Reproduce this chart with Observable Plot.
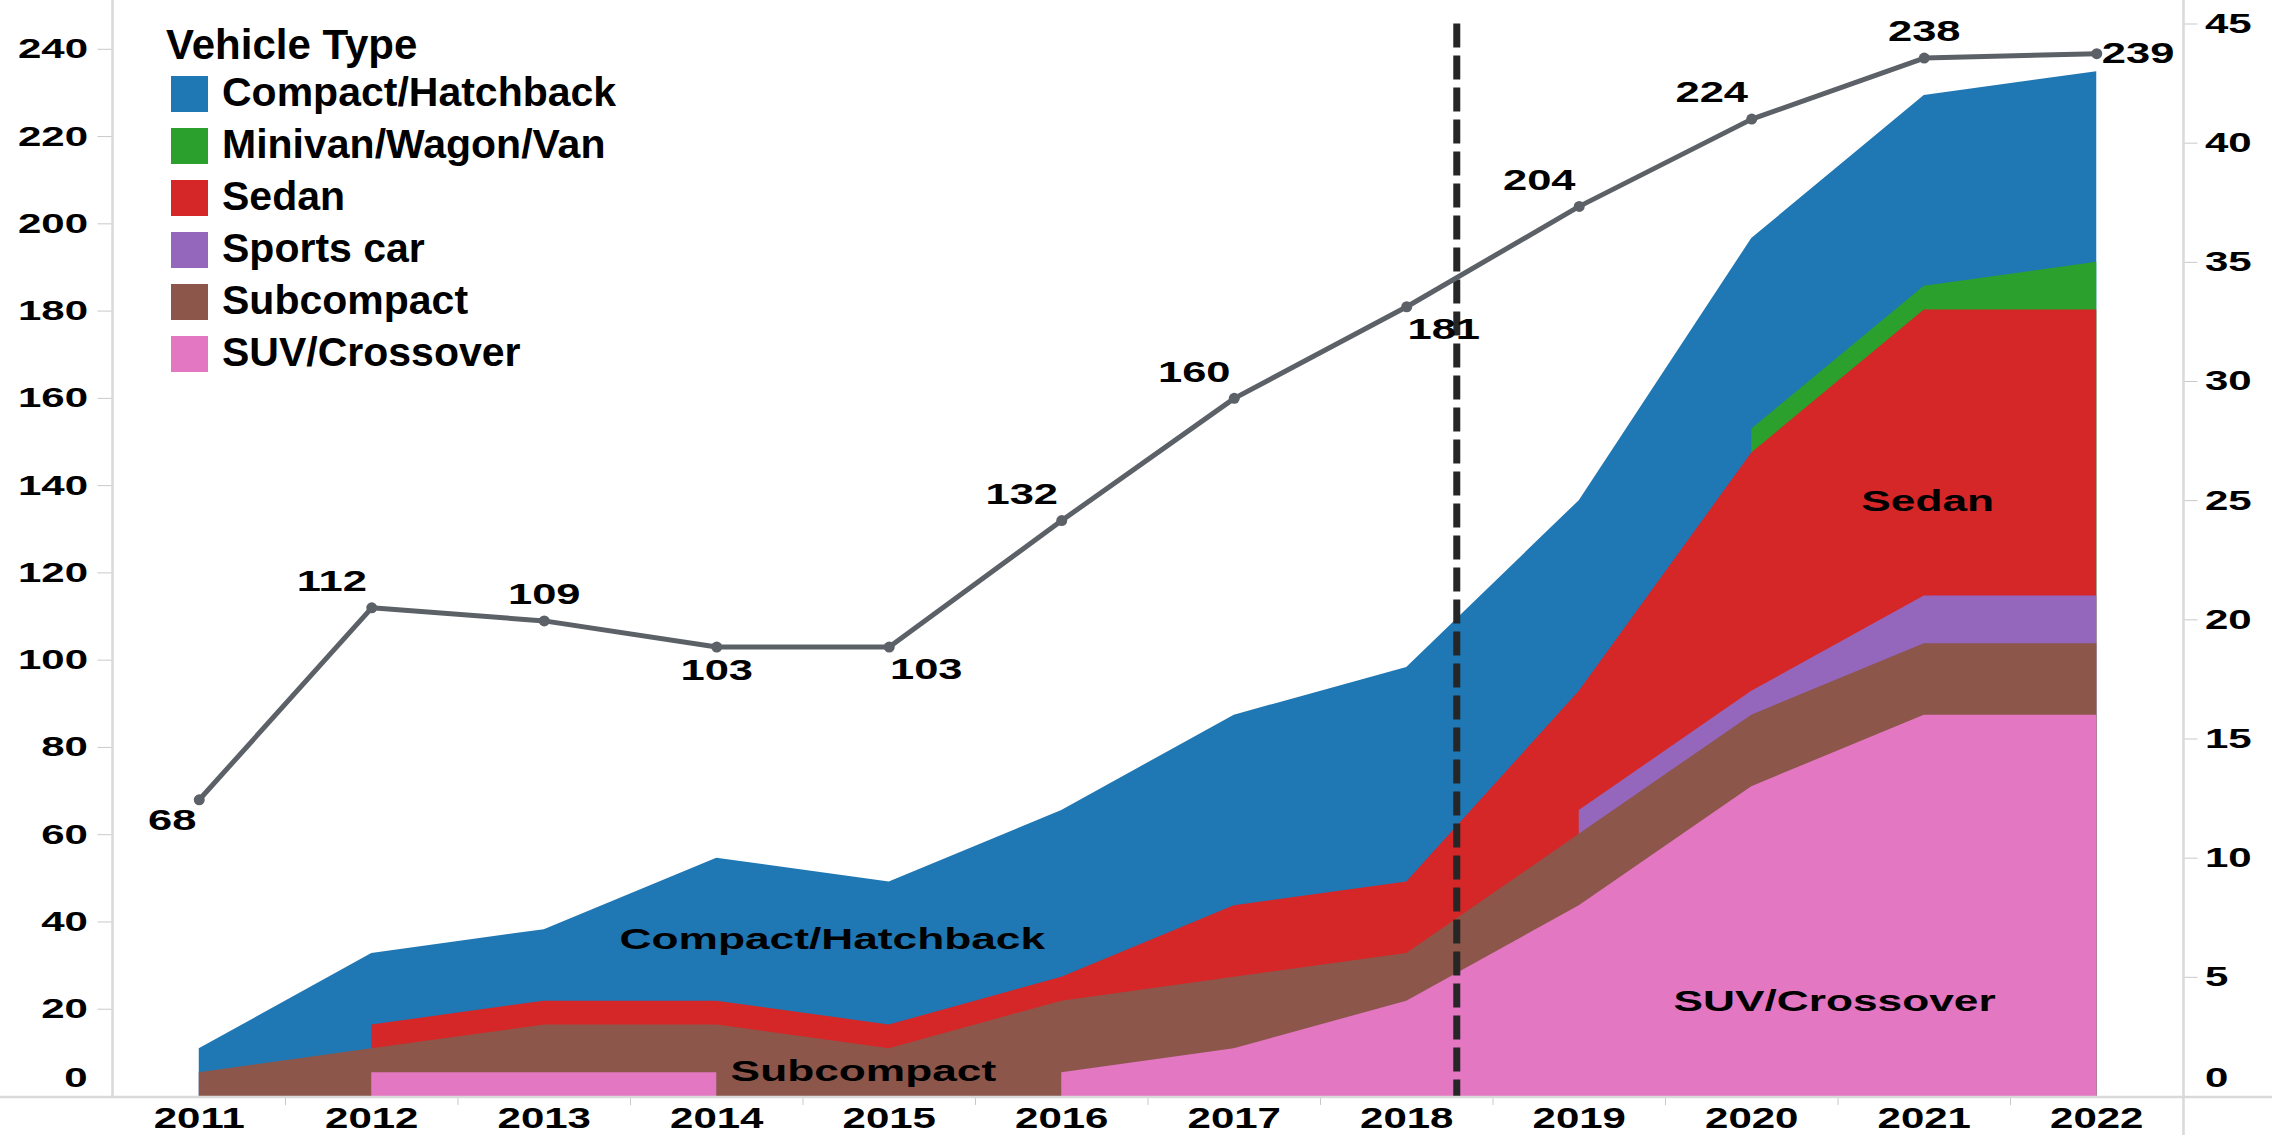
<!DOCTYPE html>
<html>
<head>
<meta charset="utf-8">
<script src="https://cdn.jsdelivr.net/npm/d3@7"></script>
<script src="https://cdn.jsdelivr.net/npm/@observablehq/plot@0.6"></script>
<style>
  html, body { margin: 0; padding: 0; background: #fff; }
  #wrap { position: relative; width: 2272px; height: 1135px; overflow: hidden; }
  #legend { position: absolute; left: 166px; top: 0; font-family: "Liberation Sans", Arial, sans-serif; font-weight: bold; color: #000; }
  #legend .lt { position: absolute; left: 0; top: 24px; font-size: 42px; line-height: 42px; white-space: nowrap; }
  #legend .li { position: absolute; left: 5px; height: 36px; font-size: 41px; line-height: 32px; white-space: nowrap; }
  #legend .sw { position: absolute; left: 0; top: 0; width: 37px; height: 36px; }
  #legend .tx { position: absolute; left: 51px; top: 0; }
</style>
</head>
<body>
<div id="wrap"></div>
<script>
// ---------------- data ----------------
const years = [2011, 2012, 2013, 2014, 2015, 2016, 2017, 2018, 2019, 2020, 2021, 2022];
const vehicleTypes = ["Compact/Hatchback", "Minivan/Wagon/Van", "Sedan", "Sports car", "Subcompact", "SUV/Crossover"];
const typeColors = ["#1f77b4", "#2ca02c", "#d62728", "#9467bd", "#8c564b", "#e377c2"];

// model counts per year (right axis); null = no models that year
const compactHatchback = [1, 3, 3, 6, 6, 7, 8, 9, 8, 8, 8, 8];
const minivanWagonVan  = [null, null, null, null, null, null, null, null, null, 1, 1, 2];
const sedan            = [null, 1, 1, 1, 1, 1, 3, 3, 5, 10, 12, 12];
const sportsCar        = [null, null, null, null, null, null, null, null, 1, 1, 2, 2];
const subcompact       = [1, 1, 2, 2, 2, 3, 3, 2, 3, 3, 3, 3];
const suvCrossover     = [null, 1, 1, 1, null, 1, 2, 4, 8, 13, 16, 16];

// line series (left axis)
const lineValues = [68, 112, 109, 103, 103, 132, 160, 181, 204, 224, 238, 239];
const labelPlacement = ["bl", "tl", "t", "b", "br", "tl", "tl", "br", "tl", "tl", "t", "r"];

const leftTicks = [0, 20, 40, 60, 80, 100, 120, 140, 160, 180, 200, 220, 240];
const rightTicks = [0, 5, 10, 15, 20, 25, 30, 35, 40, 45];
const leftMax = 245.8;
const rightMax = 45;
const cutoffYear = 2018.29;

// ---------------- derived tables ----------------
const seriesByType = {
  "Compact/Hatchback": compactHatchback,
  "Minivan/Wagon/Van": minivanWagonVan,
  "Sedan": sedan,
  "Sports car": sportsCar,
  "Subcompact": subcompact,
  "SUV/Crossover": suvCrossover
};
// stacking order bottom -> top
const stackOrder = ["SUV/Crossover", "Subcompact", "Sports car", "Sedan", "Minivan/Wagon/Van", "Compact/Hatchback"];
const cumTops = {};
years.forEach((yr, i) => {
  let acc = 0;
  for (const t of stackOrder) {
    const v = seriesByType[t][i];
    acc += v == null ? 0 : v;
    cumTops[t] = cumTops[t] || [];
    cumTops[t][i] = v == null ? null : acc;
  }
});
// draw top-most series first so lower series paint over
const areaRows = [];
for (const t of stackOrder.slice().reverse()) {
  years.forEach((yr, i) => areaRows.push({ year: yr, type: t, top: cumTops[t][i] }));
}
const toY = v => v * rightMax / leftMax;
const lineRows = years.map((yr, i) => ({ year: yr, value: lineValues[i], place: labelPlacement[i] }));

const placeOffsets = {
  t: { dx: 0, dy: -26, anchor: "middle" },
  tl: { dx: -40, dy: -26, anchor: "middle" },
  b: { dx: 0, dy: 24, anchor: "middle" },
  bl: { dx: -27, dy: 21, anchor: "middle" },
  br: { dx: 37, dy: 23, anchor: "middle" },
  r: { dx: 5, dy: 0, anchor: "start" }
};
const lineColor = "#5c6168";
const axisGray = "#c9c9c9";

const labelMarks = Object.entries(placeOffsets).map(([k, o]) =>
  Plot.text(lineRows.filter(d => d.place === k), {
    x: "year", y: d => toY(d.value), text: d => String(d.value),
    dx: o.dx, dy: o.dy, textAnchor: o.anchor, fontSize: 29, fill: "#000"
  })
);

const inlineLabels = [
  { text: "Compact/Hatchback", x: 2014.67, y: 6.57 },
  { text: "Subcompact", x: 2014.85, y: 1.05 },
  { text: "Sedan", x: 2021.02, y: 24.97 },
  { text: "SUV/Crossover", x: 2020.48, y: 3.97 }
];

const plot = Plot.plot({
  width: 2272,
  height: 1135,
  marginLeft: 112.5,
  marginRight: 89.5,
  marginTop: 23.5,
  marginBottom: 39,
  x: { domain: [2010.5, 2022.5], axis: null, label: null },
  y: { domain: [0, rightMax], axis: null, label: null },
  color: { domain: vehicleTypes, range: typeColors },
  style: { fontFamily: "Liberation Sans, Arial, sans-serif", fontWeight: "bold", fontSize: "28px", color: "#000", background: "transparent", overflow: "visible" },
  marks: [
    Plot.areaY(areaRows, { x: "year", y1: 0, y2: "top", z: "type", fill: "type" }),
    Plot.ruleX([cutoffYear], { stroke: "#262626", strokeWidth: 7, strokeDasharray: "24,8" }),
    Plot.line(lineRows, { x: "year", y: d => toY(d.value), stroke: lineColor, strokeWidth: 5 }),
    Plot.dot(lineRows, { x: "year", y: d => toY(d.value), r: 5.5, fill: lineColor }),
    ...labelMarks,
    Plot.text(inlineLabels, { x: "x", y: "y", text: "text", fontSize: 29.5, fill: "#000" }),
    // left axis (line values)
    Plot.axisY({ anchor: "left", ticks: leftTicks.map(toY), tickSize: 15, tickPadding: 10,
      tickFormat: d => { const v = Math.round(d * leftMax / rightMax); return v === 0 ? "" : String(v); },
      stroke: axisGray, fill: "#000", fontSize: 28, label: null }),
    Plot.text([0], { y: d => d, frameAnchor: "left", dx: -25.5, dy: -18, textAnchor: "end", text: d => String(d), fontSize: 28, fill: "#000" }),
    // right axis (model counts)
    Plot.axisY({ anchor: "right", ticks: rightTicks, tickSize: 14, tickPadding: 8,
      tickFormat: d => d === 0 ? "" : String(d),
      stroke: axisGray, fill: "#000", fontSize: 28, label: null }),
    Plot.text([0], { y: d => d, frameAnchor: "right", dx: 22, dy: -18, textAnchor: "start", text: d => String(d), fontSize: 28, fill: "#000" }),
    // x axis
    Plot.axisX({ anchor: "bottom", ticks: years, tickSize: 0, tickPadding: 10, tickFormat: d => String(d), fill: "#000", fontSize: 30, label: null }),
    Plot.axisX({ anchor: "bottom", ticks: years.slice(1).map(y => y - 0.5), tickSize: 9, tickFormat: () => "", stroke: axisGray, label: null })
  ]
});

const wrap = document.getElementById("wrap");
wrap.appendChild(plot);

// axis lines spanning the whole panel
const xs = plot.scale("x"), ys = plot.scale("y");
const svg = d3.select(plot);
const xLeft = xs.apply(2010.5), xRight = xs.apply(2022.5), yBase = ys.apply(0) + 1;
svg.append("line").attr("x1", 0).attr("x2", 2272).attr("y1", yBase).attr("y2", yBase).attr("stroke", "#d9d9d9").attr("stroke-width", 2.5);
svg.append("line").attr("x1", xLeft).attr("x2", xLeft).attr("y1", 0).attr("y2", yBase).attr("stroke", "#d9d9d9").attr("stroke-width", 2.5);
svg.append("line").attr("x1", xRight + 1).attr("x2", xRight + 1).attr("y1", 0).attr("y2", 1135).attr("stroke", "#d9d9d9").attr("stroke-width", 2.5);

// horizontally stretched lettering, as in the reference
plot.querySelectorAll("text").forEach(t => {
  const len = t.getComputedTextLength();
  if (!len) return;
  const g = t.closest("g[aria-label]");
  const f = g && g.getAttribute("aria-label") === "x-axis tick label" ? 1.4 : 1.5;
  t.setAttribute("textLength", len * f);
  t.setAttribute("lengthAdjust", "spacingAndGlyphs");
});

// legend
const legend = d3.select(wrap).append("div").attr("id", "legend");
legend.append("div").attr("class", "lt").text("Vehicle Type");
vehicleTypes.forEach((t, i) => {
  const row = legend.append("div").attr("class", "li").style("top", (76 + 52 * i) + "px");
  row.append("span").attr("class", "sw").style("background", typeColors[i]);
  row.append("span").attr("class", "tx").text(t);
});
</script>
</body>
</html>
